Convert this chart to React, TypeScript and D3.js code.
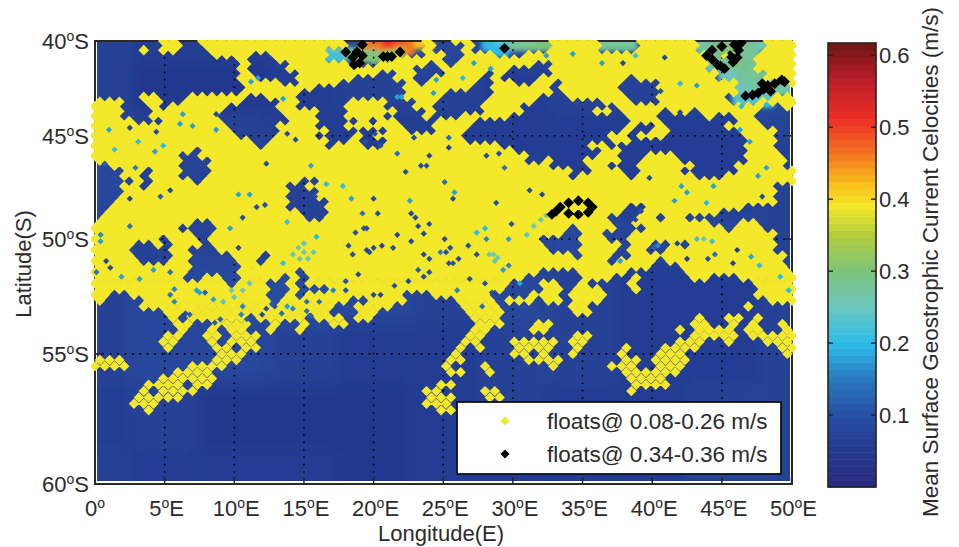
import React from 'react';
import * as d3 from 'd3';

const lonTicks = [0, 5, 10, 15, 20, 25, 30, 35, 40, 45, 50];
const latTicks = [40, 45, 50, 55, 60];
const barTicks = [0.1, 0.2, 0.3, 0.4, 0.5, 0.6];

const colorValues = [0, 0.05, 0.1, 0.15, 0.2, 0.25, 0.3, 0.35, 0.39, 0.42, 0.47, 0.51, 0.56, 0.617];
const colorStops = ['#2a2a80', '#24398f', '#264fa3', '#2a78bf', '#2bbbe9', '#6cc6c0', '#7cc47c', '#b3cc3c', '#f3e92a', '#f8c01c', '#f26a21', '#ee2e24', '#c2202a', '#6e1515'];

// background field, lat 40 to 60 by 2.5, lon 0 to 50 by 5
const fieldLats = [40, 42.5, 45, 47.5, 50, 52.5, 55, 57.5, 60];
const fieldLons = [0, 5, 10, 15, 20, 25, 30, 35, 40, 45, 50];
const fieldValues = [
  [0.07, 0.06, 0.06, 0.07, 0.08, 0.08, 0.08, 0.08, 0.08, 0.1, 0.1],
  [0.07, 0.05, 0.05, 0.06, 0.07, 0.07, 0.06, 0.07, 0.07, 0.08, 0.09],
  [0.08, 0.07, 0.07, 0.06, 0.06, 0.06, 0.06, 0.06, 0.06, 0.06, 0.07],
  [0.08, 0.07, 0.07, 0.07, 0.07, 0.07, 0.07, 0.06, 0.06, 0.06, 0.07],
  [0.08, 0.07, 0.07, 0.07, 0.08, 0.08, 0.07, 0.08, 0.07, 0.08, 0.07],
  [0.07, 0.08, 0.09, 0.09, 0.08, 0.07, 0.08, 0.07, 0.06, 0.06, 0.07],
  [0.07, 0.08, 0.08, 0.07, 0.06, 0.06, 0.07, 0.07, 0.06, 0.06, 0.07],
  [0.06, 0.07, 0.05, 0.05, 0.05, 0.06, 0.07, 0.06, 0.06, 0.07, 0.07],
  [0.07, 0.06, 0.06, 0.06, 0.05, 0.06, 0.06, 0.06, 0.06, 0.07, 0.07],
];

// strong currents along the top edge: lon, lat, speed
const hotCells: number[][] = [
  [19.8, 40.1, 0.46], [20.6, 40.1, 0.5], [21.4, 40.1, 0.53], [22.2, 40.1, 0.52], [23, 40.1, 0.47], [23.6, 40.1, 0.42],
  [20.6, 40.45, 0.46], [21.4, 40.45, 0.5], [22.2, 40.45, 0.46],
  [17, 40.6, 0.26], [18, 40.7, 0.28], [19.5, 40.8, 0.31], [20.5, 40.9, 0.3], [21.5, 40.8, 0.33], [17.2, 40.9, 0.22],
  [28.5, 40.2, 0.2], [29.5, 40.2, 0.24], [30.5, 40.2, 0.28], [31.5, 40.2, 0.29], [32.5, 40.2, 0.3], [33.2, 40.2, 0.3], [29, 40.55, 0.2],
  [36.5, 40.2, 0.28], [37.5, 40.2, 0.28], [38.2, 40.2, 0.28],
  [43.5, 40.2, 0.27], [45, 40.2, 0.3], [46.5, 40.2, 0.29], [48, 40.2, 0.26],
  [44, 40.8, 0.27], [45.5, 40.8, 0.31], [47, 40.8, 0.28],
  [44.5, 41.4, 0.26], [46, 41.4, 0.29], [47.5, 41.4, 0.28],
  [45.5, 42, 0.25], [47, 42, 0.28], [48.5, 42, 0.29], [50, 42, 0.28],
  [46.5, 42.6, 0.26], [48, 42.6, 0.27], [49.5, 42.6, 0.27],
  [46.5, 43.2, 0.23], [48, 43.2, 0.24],
];

// float lattice: row r is lat 40 + r/4, column c is lon 0.7c, odd rows shifted by half a column
const rowStep = 0.25;
const colStep = 0.7;
const colCount = 72;

// rows 0-56: the columns holding no float
const emptyRows = [
  '0-6 9-10 26-33 35-36 39-46 52-55 62-68',
  '0-6 9-10 26-33 35-37 39-46 52-55 62-68',
  '0-4 6 9-11 24-33 35-37 39-46 52-55 62-68',
  '0-11 16-17 24-33 36-37 41-43 63-67',
  '0-14 16-18 24-30 36-37 63-67',
  '0-14 16-19 26-28 34 36 45-46 63-67',
  '0-14 16-19 33-35 43-46 63-67',
  '0-14 16-20 29-30 33-35 40 42-46 64-68',
  '0-14 17-20 27-30 33-34 40 42-45 55 64-68',
  '0-14 19-20 25-31 33 39-40 43-44 47 54-57 66-70',
  '0-15 23-31 39-40 47 54-57 66-71',
  '0-14 21-31 36-40 47 54-57 66-71',
  '0-4 7-9 16-17 21-31 36-40 46-48 55-57 65-69',
  '3-4 7-8 15-18 21-25 30-32 35-39 45-51 55-57 65-67',
  '3-5 7 14-18 21-25 30-32 35-39 44-53 69-70',
  '3-5 13-18 23-25 31-33 35-39 44-50 53 58 61 68-71',
  '3-5 13-19 23-25 30-33 35-37 43-54 58-62 64-65 68-71',
  '4-6 13-19 23-26 28 31-34 39-54 58-65 68-71',
  '14-18 23-25 32-34 39-54 56-57 59-64 69-71',
  '14-18 24-26 27-29 32-34 38-53 55-56 59-65 70-71',
  '15-18 23-26 28 38-52 55 59-66 70-71',
  '16-17 24-25 27-29 38-52 55-66 70-71',
  '17 24 28-29 42-50 53-66 70-71',
  '10 43-51 54-66 70-71',
  '9-10 45-51 54-56 60-66 71',
  '9-11 44-45 47-49 54-55 60-66 71',
  '0-1 9-11 47-50 53-55 62-65 71',
  '0-2 5 9-11 49-50 54-55 60-65',
  '0-2 5 9-11 49 55 62-64',
  '0-3 5 10 21-22',
  '0-2 5 20-21 70-71',
  '0-2 20-22 70-71',
  '0-2 20-22 70-71',
  '0-1 20-23 70-71',
  '0-1 20-23 55-56 67-71',
  '0 21-23 54-55 64-71',
  '0 22-23 53-55 58 61 62-71',
  '10-11 53-54 63-65 68-71',
  '9-12 49 54-56 65 69-71',
  '10-11 48-49 52-54 70-71',
  '7 11 46-49 53-54 70-71',
  '4-5 7 11 46-49 54 57-58 60 70-71',
  '4-7 10-12 47-49 54 57-58 70-71',
  '4-7 10-13 17 49 53-54 71',
  '5-7 10-14 17 53 58 71',
  '10-14 57-59 71',
  '10-11 12-14 21 46-49 55-60',
  '9-10 13-14 19 21 44-49 53-54 56-60 63-65',
  '14 18-19 21 43-45 48-49 51-54 56-67',
  '18-19 21-23 42-45 48 52-54 56-67',
  '2-3 18-19 21 32-34 41-44 48 53-67',
  '1-4 18 26-27 32-36 41 45 48 52-68',
  '0-4 25-26 31-37 42-48 51-66 68-71',
  '0-6 24-26 29-37 42-48 51-71',
  '0-7 9 16 22 26 29-38 42-61 63-64 67 69-71',
  '0-7 10-11 16-17 19-20 22-23 26-38 42-44 47-60 63-64 66 68-69 71',
  '0-8 10-11 13 16-17 19-20 22-38 41-44 47-59 61 66 69-70',
];

// rows 57-69: sparse part, the columns holding a float
const floatRows = [
  '7-8 11-12 14-16 38-39 49-50 61-62 63-65 67-68 69-71',
  '7-8 12 14-16 38-39 43-44 45-47 49-50 60-62 65 69-71',
  '7 12-13 15-16 37 39 43-44 45-46 49 54 58-61 70-71',
  '13 14-15 37 43-44 46 49 54 58-60 71',
  '0-1 2 12-13 14 36-37 44-45 46-47 54-55 57-60',
  '0-1 2-3 10 11-13 36 40 47 53-55 58-60',
  '8-9 10-11 36-37 40 54-59',
  '7-8 9-10 11-12 55-58',
  '5-6 7-8 10-11 35-36 55-56 57 58',
  '5 7-8 9-10 34-35 40-41 55',
  '4-5 6-8 34-36 40-41',
  '4 5-6 34-36',
  '5 35-36',
];

// small holes in the yellow where the field shows through: lon, lat, speed
const specks: number[][] = [
  [22.7, 48.8, 0.08], [23, 49, 0.08], [23.2, 49.4, 0.08], [23.6, 49.75, 0.08], [24, 49.3, 0.1], [25.8, 47.8, 0.18], [25.7, 48.1, 0.1],
  [19.5, 49.5, 0.1], [19.3, 49.5, 0.1], [18.7, 49.7, 0.1], [20.3, 48.8, 0.1], [19.2, 48.8, 0.14], [21.7, 49.8, 0.08],
  [19.7, 50.6, 0.08], [20, 50.4, 0.08], [19.5, 50.5, 0.08], [20.6, 50.3, 0.08], [18.5, 50.7, 0.1], [18.2, 50.3, 0.1], [21.4, 50.4, 0.1],
  [25.1, 50, 0.1], [25.5, 50.4, 0.1], [25.2, 50.6, 0.1], [24.8, 50.6, 0.16], [25.4, 51.1, 0.1], [25.7, 51.1, 0.1], [26.1, 50.9, 0.1], [26.8, 50.3, 0.1],
  [27.4, 50.7, 0.1], [22.7, 50.1, 0.08], [23.6, 50.7, 0.1], [24, 50.9, 0.1], [23.2, 51.4, 0.12], [24, 51.5, 0.1], [23.6, 51.7, 0.1], [22.5, 51.9, 0.08],
  [21.5, 52.1, 0.1], [20, 52.5, 0.08], [20.5, 52.5, 0.08], [18.9, 51.6, 0.08], [18, 51.9, 0.1], [18, 52.3, 0.1], [17.1, 52.3, 0.16], [26.9, 51.8, 0.1],
  [28, 52, 0.1], [28.5, 52.4, 0.1], [27.8, 53, 0.14], [30.5, 52, 0.18], [29.3, 51.4, 0.18], [29.7, 51.2, 0.16], [26, 52.3, 0.16],
  [22.6, 48.2, 0.18], [20, 48.1, 0.08], [18.4, 48.1, 0.18], [27.4, 49.7, 0.2], [28, 49.5, 0.2], [28.1, 50, 0.16], [29.9, 49.3, 0.1], [29.7, 50, 0.18],
  [31.2, 47.7, 0.1], [32.1, 47.9, 0.08], [28.8, 48.3, 0.1], [28.3, 50.7, 0.26], [28.7, 51, 0.26], [28.6, 50.7, 0.27], [28.9, 50.85, 0.25],
  [31.5, 49.4, 0.26], [32, 49.1, 0.27], [32.4, 48.9, 0.27], [31, 49.8, 0.24],
  [15, 50.6, 0.27], [14.2, 50.7, 0.26], [15.7, 50.6, 0.24], [15, 50.2, 0.24], [14.7, 50.9, 0.26], [14.6, 50.4, 0.25], [15.3, 50.9, 0.25],
  [10, 52.6, 0.25], [10.6, 52.3, 0.25], [9.2, 52.8, 0.24], [11.1, 52, 0.24], [9.8, 52.3, 0.25], [10.6, 53, 0.16], [8.5, 52.7, 0.18], [5.7, 52.8, 0.16],
  [7.3, 52.3, 0.18], [7.9, 52.4, 0.12], [3.2, 51.8, 0.18], [1.9, 51.7, 0.18], [1.1, 51.3, 0.08], [0.8, 51, 0.08], [0.4, 49.8, 0.16], [0.4, 50.1, 0.18],
  [2.5, 49.4, 0.14], [4.7, 48, 0.12], [2.5, 48.1, 0.08], [5.4, 47.7, 0.08], [10.3, 50.4, 0.08], [10.6, 49, 0.1], [11.6, 48.5, 0.1], [12.2, 48.4, 0.1],
  [9.7, 49.5, 0.18], [13.8, 49.2, 0.22], [15.2, 52.8, 0.14], [13.8, 53, 0.18], [12.7, 52.9, 0.12], [15.9, 49.9, 0.2], [13.5, 51.1, 0.2],
  [1, 44.7, 0.18], [2.5, 44.6, 0.08], [4.4, 44.8, 0.08], [6.1, 44.4, 0.18], [7, 44.5, 0.18], [8.7, 44.7, 0.18], [1.4, 45.7, 0.22], [4.3, 45.8, 0.18],
  [4.9, 45.5, 0.2], [3.1, 45.3, 0.2], [14.4, 45.2, 0.1], [13.8, 44.9, 0.08], [13.5, 43.1, 0.18], [11.2, 42.2, 0.18], [11.7, 42, 0.18], [10.3, 47.9, 0.18],
  [11.1, 47.9, 0.18], [15.8, 48, 0.1], [12.3, 46.4, 0.1], [15.5, 46.5, 0.18], [16.6, 47.4, 0.2], [6.3, 43.9, 0.18], [8.7, 43.9, 0.1], [2.9, 46.6, 0.15], [0.7, 46.4, 0.12],
  [24.5, 42.1, 0.18], [24.3, 42.8, 0.18], [21.7, 43, 0.18], [22, 43, 0.18], [27.2, 41.2, 0.18], [28.4, 41.5, 0.18], [26.4, 42, 0.2], [19.4, 45.3, 0.1],
  [20.1, 44.9, 0.1], [24, 46, 0.08], [25.4, 45.6, 0.08], [25.4, 45.1, 0.14], [22.9, 45.1, 0.1], [29.4, 46.6, 0.14], [29, 45.9, 0.1], [28.1, 46, 0.1],
  [22.3, 46.8, 0.1], [23.4, 46.5, 0.1], [23.8, 46.5, 0.1], [25.1, 47.3, 0.14], [17.8, 47.5, 0.2], [21.7, 45.9, 0.14], [20.5, 45.5, 0.1], [32.4, 40.8, 0.18],
  [34.3, 40.7, 0.18], [36.4, 41.2, 0.18], [37.9, 41.2, 0.1], [40.9, 40.9, 0.08], [38.8, 40.8, 0.22], [43.2, 42.4, 0.18], [42, 42.3, 0.2], [40.6, 42.7, 0.1],
  [42, 43.8, 0.08], [47.6, 47, 0.18], [48.2, 46.6, 0.18], [39.8, 47.1, 0.08], [42.1, 47.5, 0.18], [46.3, 44.7, 0.18], [47, 45.3, 0.18], [46.4, 43.5, 0.2], [48.2, 43.4, 0.2],
  [40.4, 50.3, 0.16], [40.1, 50.4, 0.12], [43.2, 50, 0.22], [44.3, 50.1, 0.22], [43.7, 50, 0.26], [41.8, 50.2, 0.08], [44, 50.9, 0.1], [44.5, 50.7, 0.14],
  [42.5, 50.9, 0.06], [46.1, 50.5, 0.06], [45.8, 51.1, 0.08], [47.1, 50.8, 0.18], [47.7, 51.2, 0.2], [49.2, 51.7, 0.2], [49.8, 52.3, 0.2], [37.7, 51, 0.18],
  [41.6, 48.2, 0.18], [43.9, 48.3, 0.2], [47.9, 48, 0.1], [44.4, 47.5, 0.18], [39.2, 48.7, 0.1], [38.8, 49.1, 0.08], [42.5, 47.8, 0.18],
  [5.4, 52.5, 0.14], [5.7, 52.25, 0.16], [6.8, 53.35, 0.12], [6.5, 53.3, 0.1], [9, 53.55, 0.12], [8.6, 53.7, 0.12], [10.5, 53.35, 0.16], [10.9, 53.55, 0.12],
  [12, 53.35, 0.1], [12.3, 53.1, 0.1], [12.9, 53, 0.1], [15.2, 53.2, 0.14], [16.1, 52.8, 0.14], [15.5, 53.4, 0.12], [14.2, 53.1, 0.16], [13.4, 53.3, 0.14],
  [7.5, 52.4, 0.18], [5.4, 51.5, 0.14], [4.2, 51.4, 0.18], [0.1, 51.5, 0.14],
];

// fast floats, lon and lat
const blackLons = [18, 18.5, 19, 18.8, 19.2, 19.2, 18.6, 20.7, 21, 21.3, 21.9, 29.4,
  43.9, 44.3, 44.7, 45.2, 45.8, 45.6, 46.2, 46.4, 45.9, 45, 44.3, 46.1, 44.9,
  46.7, 47.2, 47.6, 48, 48.3, 48.8, 49.3, 49.5, 48.5, 47.9,
  32.8, 33.4, 34, 34.7, 35.4, 35.7, 35.4, 34.7, 34, 33.1];
const blackLats = [40.6, 40.9, 41.2, 40.6, 40.2, 40.8, 41.3, 40.85, 40.85, 40.85, 40.6, 40.4,
  40.8, 41, 41.3, 41.5, 41.15, 40.8, 40.5, 40.1, 40.2, 40.3, 40.5, 40.9, 41.35,
  42.95, 42.9, 42.8, 42.6, 42.4, 42.3, 42.1, 42.2, 42.7, 42.3,
  48.85, 48.5, 48.3, 48.2, 48.3, 48.5, 48.75, 48.85, 48.8, 48.7];
// yellow floats showing through the black rings
const innerLons = [45.1, 45.3, 34.7, 35];
const innerLats = [40.85, 40.75, 48.55, 48.5];

const legendLabels = ['floats@ 0.08-0.26 m/s', 'floats@ 0.34-0.36 m/s'];
const barTitle = 'Mean Surface Geostrophic Current Celocities (m/s)';

const font = '"Liberation Sans", Arial, sans-serif';
const inkColor = '#2b2b2b';
const yellow = '#f3e82c';

const merc = (lat: number) => Math.log(Math.tan(Math.PI / 4 + (lat * Math.PI) / 360));
const x = d3.scaleLinear().domain([0, 50]).range([95, 791.5]);
const yMerc = d3.scaleLinear().domain([merc(40), merc(60)]).range([41, 484]);
const y = (lat: number) => yMerc(merc(lat));
const speedColor = d3.scaleLinear<string>().domain(colorValues).range(colorStops);
const barY = d3.scaleLinear().domain([0, 0.617]).range([487, 43]);
const barLevels = d3.range(64).map((i) => ((i + 0.5) / 64) * 0.617);

const parseRuns = (row: string) => {
  const cols = new Set<number>();
  row.split(' ').forEach((run) => {
    const [a, b] = run.split('-').map(Number);
    d3.range(a, (b ?? a) + 1).forEach((c) => cols.add(c));
  });
  return cols;
};

const diamond = (cx: number, cy: number, r: number) => `M${cx},${cy - r}L${cx + r},${cy}L${cx},${cy + r}L${cx - r},${cy}Z`;

const lonOf = (row: number, col: number) => col * colStep + (row % 2 ? colStep / 2 : 0);
const latOf = (row: number) => 40 + row * rowStep;

const floatPath = () => {
  let d = '';
  emptyRows.forEach((row, r) => {
    const empty = parseRuns(row);
    d3.range(colCount).forEach((c) => {
      if (!empty.has(c)) d += diamond(x(lonOf(r, c)), y(latOf(r)), 5.3);
    });
  });
  floatRows.forEach((row, i) => {
    const r = emptyRows.length + i;
    parseRuns(row).forEach((c) => {
      d += diamond(x(lonOf(r, c)), y(latOf(r)), 5.2);
    });
  });
  return d;
};

const Degree = ({ value, suffix }: { value: number; suffix: string }) => (
  <>
    {value}
    <tspan dy={-8} fontSize={14}>o</tspan>
    <tspan dy={8}>{suffix}</tspan>
  </>
);

export default function App() {
  return (
    <svg width={959} height={547} style={{ position: 'absolute', left: 0, top: 0, background: '#fff' }} fontFamily={font}>
      <defs>
        <filter id="soft"><feGaussianBlur stdDeviation={9} /></filter>
        <filter id="softHot"><feGaussianBlur stdDeviation={2} /></filter>
        <filter id="print"><feGaussianBlur stdDeviation={0.45} /></filter>
        <clipPath id="inner"><rect x={97} y={42} width={693} height={439} /></clipPath>
        <clipPath id="floatsClip"><rect x={91} y={40} width={705} height={445} /></clipPath>
      </defs>

      <g clipPath="url(#inner)">
        <rect x={97} y={42} width={693} height={439} fill={speedColor(0.07)} />
        <g filter="url(#soft)">
          {fieldValues.map((row, i) =>
            row.map((v, j) => (
              <rect
                key={`${i}-${j}`}
                x={x(fieldLons[j] - 2.5)}
                y={y(Math.max(fieldLats[i] - 1.25, 36))}
                width={x(5) - x(0)}
                height={y(fieldLats[i] + 1.25) - y(Math.max(fieldLats[i] - 1.25, 36)) + 1}
                fill={speedColor(v)}
              />
            )),
          )}
        </g>
        <g filter="url(#softHot)">
          {hotCells.map(([lon, lat, v], i) => (
            <rect key={i} x={x(lon - 0.75)} y={y(lat - 0.35)} width={x(1.5) - x(0)} height={y(lat + 0.35) - y(lat - 0.35)} fill={speedColor(v)} />
          ))}
        </g>
      </g>

      {/* grid */}
      <g stroke="#000" strokeWidth={1.6} strokeDasharray="1.6 5.8" fill="none">
        {lonTicks.slice(1, -1).map((t) => <line key={t} x1={x(t)} x2={x(t)} y1={42} y2={484} />)}
        {latTicks.slice(1, -1).map((t) => <line key={t} x1={95} x2={792} y1={y(t)} y2={y(t)} />)}
      </g>

      {/* frame and ticks */}
      <rect x={95} y={41} width={697} height={443} fill="none" stroke="#2a2a2a" strokeWidth={2} />
      <g stroke="#2a2a2a" strokeWidth={1.5}>
        {lonTicks.map((t) => <line key={t} x1={x(t)} x2={x(t)} y1={484} y2={477} />)}
        {latTicks.map((t) => (
          <g key={t}>
            <line x1={95} x2={102} y1={y(t)} y2={y(t)} />
            <line x1={792} x2={785} y1={y(t)} y2={y(t)} />
          </g>
        ))}
      </g>

      <g clipPath="url(#floatsClip)" filter="url(#print)">
        <path d={floatPath()} fill={yellow} />
        {specks.map(([lon, lat, v], i) => (
          <path key={i} d={diamond(x(lon), y(lat), 3.1)} fill={speedColor(v)} />
        ))}
        <path d={blackLons.map((lon, i) => diamond(x(lon), y(blackLats[i]), 5.4)).join('')} fill="#000" />
        <path d={innerLons.map((lon, i) => diamond(x(lon), y(innerLats[i]), 2.4)).join('')} fill={yellow} />
      </g>

      {/* legend */}
      <rect x={457} y={402} width={324} height={72} fill="#fff" stroke="#111" strokeWidth={1.8} />
      <path d={diamond(505, 421, 4.5)} fill={yellow} />
      <path d={diamond(505, 454, 4.5)} fill="#000" />
      {legendLabels.map((label, i) => (
        <text key={label} x={547} y={429 + i * 33} fontSize={22.5} fill={inkColor}>{label}</text>
      ))}

      {/* axis labels */}
      <g fontSize={22} fill={inkColor}>
        {lonTicks.map((t) => (
          <text key={t} x={x(t) + (t === 0 ? 0 : 2)} y={516} textAnchor="middle">
            <Degree value={t} suffix={t === 0 ? '' : 'E'} />
          </text>
        ))}
        {latTicks.map((t) => (
          <text key={t} x={89} y={y(t) + 8} textAnchor="end">
            <Degree value={t} suffix="S" />
          </text>
        ))}
        <text x={441} y={541} textAnchor="middle">Longitude(E)</text>
        <text transform={`translate(31,264) rotate(-90)`} textAnchor="middle">Latitude(S)</text>
      </g>

      {/* colorbar */}
      {barLevels.map((v, i) => (
        <rect key={i} x={828} y={barY(v) - 444 / 64 / 2} width={48} height={444 / 64 + 0.5} fill={speedColor(v)} />
      ))}
      <rect x={828} y={43} width={48} height={444} fill="none" stroke="#222" strokeWidth={1.6} />
      <g stroke="#222" strokeWidth={1.4}>
        {barTicks.map((t) => (
          <g key={t}>
            <line x1={828} x2={833} y1={barY(t)} y2={barY(t)} />
            <line x1={871} x2={876} y1={barY(t)} y2={barY(t)} />
          </g>
        ))}
      </g>
      <g fontSize={22} fill={inkColor}>
        {barTicks.map((t) => (
          <text key={t} x={879} y={barY(t) + 8}>{t.toFixed(1)}</text>
        ))}
        <text transform="translate(938,262) rotate(-90)" textAnchor="middle" fontSize={22.5}>{barTitle}</text>
      </g>
    </svg>
  );
}
